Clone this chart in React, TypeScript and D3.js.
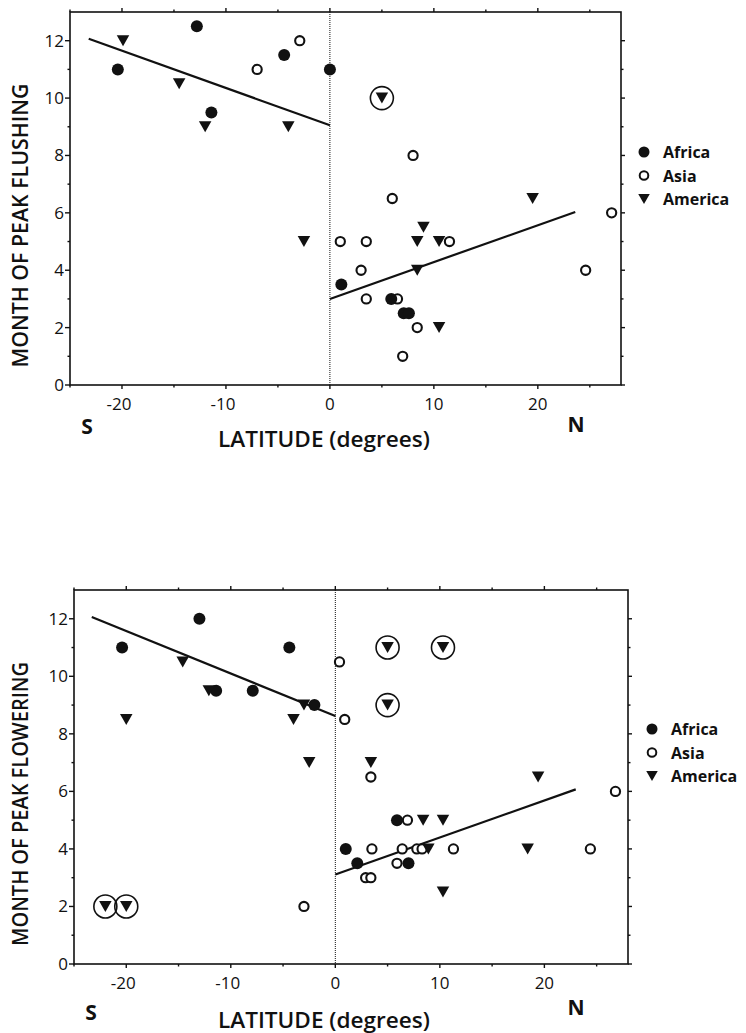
import { useEffect, useRef } from 'react'
import * as d3 from 'd3'

type Pt = [number, number]

// Peak flushing: [latitude, month]
const flushAfrica: Pt[] = [
  [-20.4, 11], [-12.8, 12.5], [-4.4, 11.5], [-11.4, 9.5], [0, 11],
  [1.1, 3.5], [5.9, 3], [7.1, 2.5], [7.6, 2.5],
]
const flushAsia: Pt[] = [
  [-7, 11], [-2.9, 12], [1, 5], [3.5, 5], [3, 4], [3.5, 3], [8, 8], [6, 6.5],
  [6.5, 3], [11.5, 5], [8.4, 2], [7, 1], [27.1, 6], [24.6, 4],
]
const flushAmerica: Pt[] = [
  [-19.9, 12], [-14.5, 10.5], [-12, 9], [-4, 9], [-2.5, 5], [5, 10],
  [19.5, 6.5], [9, 5.5], [8.4, 5], [10.5, 5], [8.4, 4], [10.5, 2],
]
const flushCircled: Pt[] = [[5, 10]]
const flushFits: Pt[][] = [
  [[-23.2, 12.07], [0, 9.05]],
  [[0, 3.0], [23.6, 6.03]],
]

// Peak flowering: [latitude, month]
const flowerAfrica: Pt[] = [
  [-20.4, 11], [-13, 12], [-4.4, 11], [-11.4, 9.5], [-7.9, 9.5], [-2, 9],
  [1, 4], [2.1, 3.5], [5.9, 5], [7, 3.5],
]
const flowerAsia: Pt[] = [
  [0.4, 10.5], [0.9, 8.5], [-3, 2], [3.4, 6.5], [3.5, 4], [2.9, 3], [3.4, 3],
  [6.9, 5], [6.4, 4], [5.9, 3.5], [7.8, 4], [8.3, 4], [11.3, 4], [24.4, 4], [26.8, 6],
]
const flowerAmerica: Pt[] = [
  [-20, 8.5], [-14.6, 10.5], [-12.1, 9.5], [-4, 8.5], [-3, 9], [-2.5, 7],
  [-22, 2], [-20, 2], [3.4, 7], [5, 11], [10.3, 11], [5, 9], [19.4, 6.5],
  [8.4, 5], [10.3, 5], [8.9, 4], [18.4, 4], [10.3, 2.5],
]
const flowerCircled: Pt[] = [[-22, 2], [-20, 2], [5, 11], [10.3, 11], [5, 9]]
const flowerFits: Pt[][] = [
  [[-23.3, 12.06], [0, 8.62]],
  [[0, 3.11], [23, 6.07]],
]

const xTicks = [-20, -10, 0, 10, 20]
const xMinor = [-25, -15, -5, 5, 15, 25]
const yTicks = [0, 2, 4, 6, 8, 10, 12]
const yMinor = [1, 3, 5, 7, 9, 11]
const legendItems = ['Africa', 'Asia', 'America']

const FONT = '"Open Sans", "DejaVu Sans", sans-serif'
const INK = '#111'

interface PanelCfg {
  left: number
  right: number
  top: number
  bottom: number
  yLabel: string
  africa: Pt[]
  asia: Pt[]
  america: Pt[]
  circled: Pt[]
  fits: Pt[][]
  legendX: number
  legendY: number
  titleY: number
  sY: number
  nY: number
}

function trianglePath(cx: number, cy: number, w: number, h: number) {
  const p = d3.path()
  p.moveTo(cx - w / 2, cy - h / 2)
  p.lineTo(cx + w / 2, cy - h / 2)
  p.lineTo(cx, cy + h / 2)
  p.closePath()
  return p.toString()
}

function drawPanel(svg: d3.Selection<SVGSVGElement, unknown, null, undefined>, c: PanelCfg) {
  const x = d3.scaleLinear().domain([-25, 28]).range([c.left, c.right])
  const y = d3.scaleLinear().domain([0, 13]).range([c.bottom, c.top])
  const g = svg.append('g')

  // frame
  g.append('rect')
    .attr('x', c.left).attr('y', c.top)
    .attr('width', c.right - c.left).attr('height', c.bottom - c.top)
    .attr('fill', 'none').attr('stroke', INK).attr('stroke-width', 1.6)

  // ticks, all pointing outward
  const tick = (x1: number, y1: number, x2: number, y2: number, w = 1.4) =>
    g.append('line').attr('x1', x1).attr('y1', y1).attr('x2', x2).attr('y2', y2)
      .attr('stroke', INK).attr('stroke-width', w)
  xTicks.forEach((t) => {
    tick(x(t), c.bottom, x(t), c.bottom + 4)
    tick(x(t), c.top, x(t), c.top - 4)
  })
  xMinor.forEach((t) => {
    tick(x(t), c.bottom, x(t), c.bottom + 2.5)
    tick(x(t), c.top, x(t), c.top - 2.5)
  })
  yTicks.forEach((t) => {
    tick(c.left, y(t), c.left - 5, y(t))
    tick(c.right, y(t), c.right + 4, y(t))
  })
  yMinor.forEach((t) => {
    tick(c.left, y(t), c.left - 2.5, y(t))
    tick(c.right, y(t), c.right + 2.5, y(t))
  })

  // tick labels
  g.selectAll('text.xt').data(xTicks).join('text')
    .attr('x', (d) => x(d) - (d < 0 ? 3 : 0))
    .attr('y', c.bottom + 25)
    .attr('text-anchor', 'middle')
    .attr('font-size', 17).attr('font-family', FONT).attr('fill', INK)
    .text((d) => `${d}`)
  g.selectAll('text.yt').data(yTicks).join('text')
    .attr('x', c.left - 6)
    .attr('y', (d) => y(d) + 6)
    .attr('text-anchor', 'end')
    .attr('font-size', 17).attr('font-family', FONT).attr('fill', INK)
    .text((d) => `${d}`)

  // axis titles
  g.append('text')
    .attr('x', 218)
    .attr('y', c.titleY)
    .attr('textLength', 212).attr('lengthAdjust', 'spacingAndGlyphs')
    .attr('font-size', 22).attr('font-weight', 600).attr('font-family', FONT).attr('fill', INK)
    .text('LATITUDE (degrees)')
  g.append('text')
    .attr('x', c.left + 17).attr('y', c.sY)
    .attr('text-anchor', 'middle')
    .attr('font-size', 21).attr('font-weight', 700).attr('font-family', FONT).attr('fill', INK)
    .text('S')
  g.append('text')
    .attr('x', 576).attr('y', c.nY)
    .attr('text-anchor', 'middle')
    .attr('font-size', 21).attr('font-weight', 700).attr('font-family', FONT).attr('fill', INK)
    .text('N')
  g.append('text')
    .attr('transform', `translate(28,${(c.top + c.bottom) / 2 + 27 + 142}) rotate(-90)`)
    .attr('textLength', 284).attr('lengthAdjust', 'spacingAndGlyphs')
    .attr('font-size', 22).attr('font-weight', 600).attr('font-family', FONT).attr('fill', INK)
    .text(c.yLabel)

  // equator
  g.append('line')
    .attr('x1', x(0)).attr('x2', x(0)).attr('y1', c.top).attr('y2', c.bottom)
    .attr('stroke', INK).attr('stroke-width', 1).attr('stroke-dasharray', '1,1')

  // regression lines
  const line = d3.line<Pt>().x((d) => x(d[0])).y((d) => y(d[1]))
  c.fits.forEach((f) => {
    g.append('path').attr('d', line(f)!).attr('fill', 'none')
      .attr('stroke', INK).attr('stroke-width', 2.2)
  })

  // markers
  g.selectAll('circle.asia').data(c.asia).join('circle')
    .attr('cx', (d) => x(d[0])).attr('cy', (d) => y(d[1])).attr('r', 4.6)
    .attr('fill', '#fff').attr('stroke', INK).attr('stroke-width', 2.1)
  g.selectAll('circle.africa').data(c.africa).join('circle')
    .attr('cx', (d) => x(d[0])).attr('cy', (d) => y(d[1])).attr('r', 6)
    .attr('fill', INK)
  g.selectAll('circle.ring').data(c.circled).join('circle')
    .attr('cx', (d) => x(d[0])).attr('cy', (d) => y(d[1])).attr('r', 11.5)
    .attr('fill', 'none').attr('stroke', INK).attr('stroke-width', 1.6)
  g.selectAll('path.america').data(c.america).join('path')
    .attr('d', (d) => trianglePath(x(d[0]), y(d[1]), 12.5, 11))
    .attr('fill', INK)

  // legend
  legendItems.forEach((name, i) => {
    const ly = c.legendY + i * 23.5
    if (name === 'Africa') {
      g.append('circle').attr('cx', c.legendX).attr('cy', ly).attr('r', 5.5).attr('fill', INK)
    } else if (name === 'Asia') {
      g.append('circle').attr('cx', c.legendX).attr('cy', ly).attr('r', 4.3)
        .attr('fill', '#fff').attr('stroke', INK).attr('stroke-width', 2)
    } else {
      g.append('path').attr('d', trianglePath(c.legendX, ly, 11.5, 10)).attr('fill', INK)
    }
    g.append('text')
      .attr('x', c.legendX + 19).attr('y', ly + 6)
      .attr('font-size', 16).attr('font-weight', 700).attr('font-family', FONT).attr('fill', INK)
      .text(name)
  })
}

function Chart() {
  const ref = useRef<SVGSVGElement>(null)

  useEffect(() => {
    if (!ref.current) return
    const svg = d3.select(ref.current)
    svg.selectAll('*').remove()
    drawPanel(svg, {
      left: 70, right: 621, top: 12, bottom: 385,
      yLabel: 'MONTH OF PEAK FLUSHING',
      africa: flushAfrica, asia: flushAsia, america: flushAmerica,
      circled: flushCircled, fits: flushFits,
      legendX: 644, legendY: 152,
      titleY: 447, sY: 434, nY: 432,
    })
    drawPanel(svg, {
      left: 74, right: 628, top: 590, bottom: 964,
      yLabel: 'MONTH OF PEAK FLOWERING',
      africa: flowerAfrica, asia: flowerAsia, america: flowerAmerica,
      circled: flowerCircled, fits: flowerFits,
      legendX: 652, legendY: 729,
      titleY: 1028, sY: 1020, nY: 1015,
    })
  }, [])

  return (
    <svg
      ref={ref}
      width={746}
      height={1033}
      style={{ position: 'absolute', left: 0, top: 0, background: '#fff', display: 'block' }}
    />
  )
}

export default function App() {
  return <Chart />
}
